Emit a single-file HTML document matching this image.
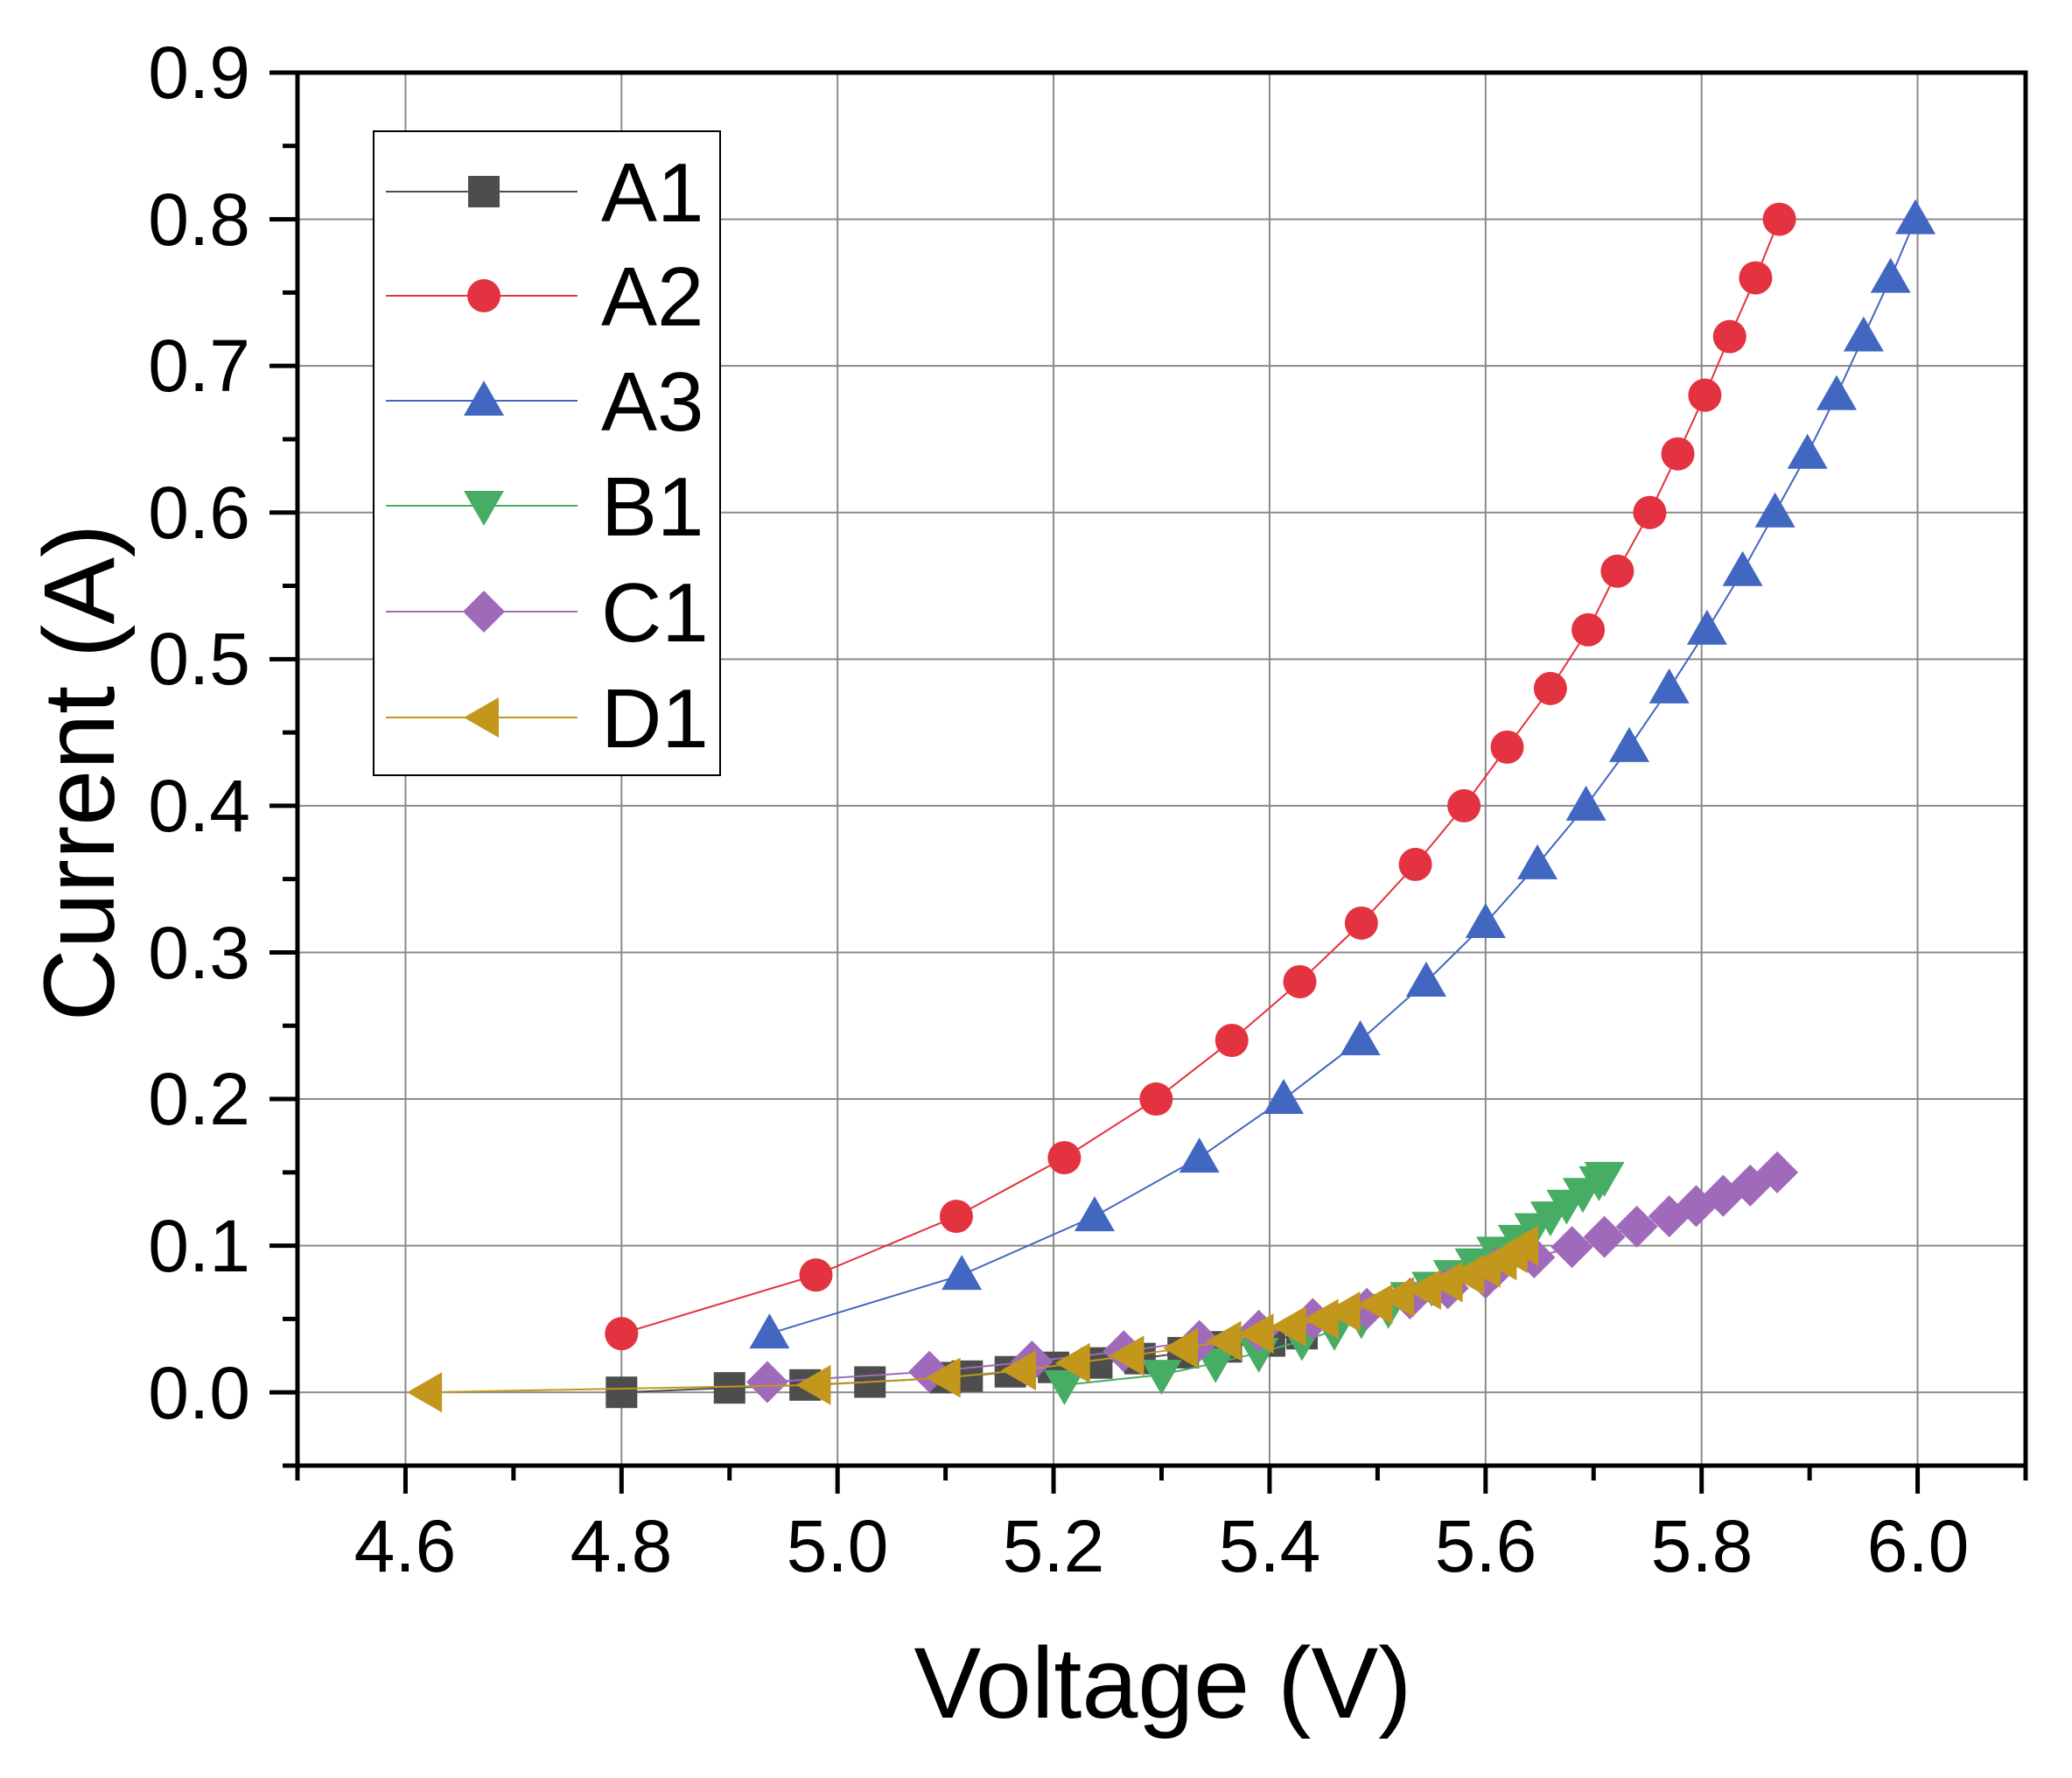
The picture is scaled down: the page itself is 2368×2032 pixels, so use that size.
<!DOCTYPE html>
<html><head><meta charset="utf-8"><style>
html,body{margin:0;padding:0;background:#fff}
svg{display:block}
text{font-family:"Liberation Sans",Arial,sans-serif;fill:#000}
</style></head><body>
<svg id="s" width="2368" height="2032" viewBox="0 0 2368 2032" xmlns="http://www.w3.org/2000/svg">
<g id="grid"></g>
<g id="data"></g>
<g id="axes"></g>
<g font-size="84">
<text x="286" y="112" text-anchor="end">0.9</text>
<text x="286" y="280" text-anchor="end">0.8</text>
<text x="286" y="447" text-anchor="end">0.7</text>
<text x="286" y="615" text-anchor="end">0.6</text>
<text x="286" y="782" text-anchor="end">0.5</text>
<text x="286" y="950" text-anchor="end">0.4</text>
<text x="286" y="1118" text-anchor="end">0.3</text>
<text x="286" y="1285" text-anchor="end">0.2</text>
<text x="286" y="1453" text-anchor="end">0.1</text>
<text x="286" y="1621" text-anchor="end">0.0</text>
<text x="463" y="1796" text-anchor="middle">4.6</text>
<text x="710" y="1796" text-anchor="middle">4.8</text>
<text x="957" y="1796" text-anchor="middle">5.0</text>
<text x="1204" y="1796" text-anchor="middle">5.2</text>
<text x="1451" y="1796" text-anchor="middle">5.4</text>
<text x="1698" y="1796" text-anchor="middle">5.6</text>
<text x="1945" y="1796" text-anchor="middle">5.8</text>
<text x="2192" y="1796" text-anchor="middle">6.0</text>
</g>
<text x="1329" y="1963" font-size="115" text-anchor="middle">Voltage (V)</text>
<text transform="translate(130,883) rotate(-90)" font-size="115" text-anchor="middle">Current (A)</text>
<g id="legend"></g>
<g font-size="96">
<text x="687" y="253">A1</text>
<text x="687" y="372">A2</text>
<text x="687" y="492">A3</text>
<text x="687" y="612">B1</text>
<text x="687" y="733">C1</text>
<text x="687" y="854">D1</text>
</g>
</svg>
<script>
var L=340,R=2315,T=83,B=1675;
function X(v){return L+(v-4.5)/1.6*(R-L);}
function Y(c){return T+(0.9-c)/0.95*(B-T);}
var NS="http://www.w3.org/2000/svg";
function el(p,tag,a){var e=document.createElementNS(NS,tag);for(var k in a)e.setAttribute(k,a[k]);document.getElementById(p).appendChild(e);return e;}
for(var v=4.6;v<6.05;v+=0.2){var x=X(v);el("grid","line",{x1:x,x2:x,y1:T,y2:B,stroke:"#8a8a8a","stroke-width":2});}
for(var c=-0.0;c<0.85;c+=0.1){var y=Y(c);el("grid","line",{x1:L,x2:R,y1:y,y2:y,stroke:"#8a8a8a","stroke-width":2});}
el("axes","rect",{x:L,y:T,width:R-L,height:B-T,fill:"none",stroke:"#000","stroke-width":5});
for(var i=0;i<=16;i++){var x=X(4.5+i*0.1);var mj=(i%2==1);el("axes","line",{x1:x,x2:x,y1:B,y2:B+(mj?32:17),stroke:"#000","stroke-width":5});}
for(var i=0;i<=19;i++){var y=Y(-0.05+i*0.05);var mj=(i%2==1);el("axes","line",{x1:L,x2:L-(mj?32:17),y1:y,y2:y,stroke:"#000","stroke-width":5});}
function marker(g,t,x,y,col){
 var s=18;
 if(t=="sq")el(g,"rect",{x:x-s,y:y-s,width:2*s,height:2*s,fill:col});
 else if(t=="ci")el(g,"circle",{cx:x,cy:y,r:19,fill:col});
 else if(t=="up")el(g,"polygon",{points:(x)+","+(y-23)+" "+(x+23)+","+(y+17)+" "+(x-23)+","+(y+17),fill:col});
 else if(t=="dn")el(g,"polygon",{points:(x)+","+(y+23)+" "+(x+23)+","+(y-17)+" "+(x-23)+","+(y-17),fill:col});
 else if(t=="di")el(g,"polygon",{points:(x)+","+(y-24)+" "+(x+24)+","+(y)+" "+(x)+","+(y+24)+" "+(x-24)+","+y,fill:col});
 else if(t=="lf")el(g,"polygon",{points:(x-23)+","+(y)+" "+(x+17)+","+(y-23)+" "+(x+17)+","+(y+23),fill:col});
}
var S=[
["sq","#4d4d4d",[[4.8,0],[4.9,0.003],[4.97,0.005],[5.03,0.007],[5.1,0.01],[5.12,0.011],[5.16,0.014],[5.2,0.017],[5.24,0.02],[5.28,0.023],[5.32,0.027],[5.36,0.031],[5.4,0.035],[5.43,0.04]]],
["ci","#e33340",[[4.8,0.04],[4.98,0.08],[5.11,0.12],[5.21,0.16],[5.295,0.2],[5.365,0.24],[5.428,0.28],[5.485,0.32],[5.535,0.36],[5.58,0.4],[5.62,0.44],[5.66,0.48],[5.695,0.52],[5.722,0.56],[5.752,0.6],[5.778,0.64],[5.803,0.68],[5.826,0.72],[5.85,0.76],[5.872,0.8]]],
["up","#4267c0",[[4.937,0.04],[5.115,0.08],[5.238,0.12],[5.335,0.16],[5.413,0.2],[5.484,0.24],[5.545,0.28],[5.6,0.32],[5.648,0.36],[5.693,0.4],[5.733,0.44],[5.77,0.48],[5.805,0.52],[5.838,0.56],[5.868,0.6],[5.898,0.64],[5.925,0.68],[5.95,0.72],[5.975,0.76],[5.998,0.8]]],
["dn","#47ad64",[[5.21,0.005],[5.3,0.012],[5.35,0.02],[5.39,0.027],[5.43,0.035],[5.46,0.042],[5.485,0.05],[5.51,0.057],[5.53,0.065],[5.55,0.072],[5.57,0.08],[5.59,0.088],[5.61,0.096],[5.63,0.104],[5.645,0.112],[5.66,0.12],[5.675,0.128],[5.69,0.136],[5.705,0.144],[5.71,0.147]]],
["di","#a06abb",[[4.935,0.007],[5.085,0.014],[5.18,0.021],[5.265,0.028],[5.335,0.035],[5.39,0.042],[5.44,0.05],[5.49,0.057],[5.53,0.064],[5.565,0.071],[5.6,0.078],[5.61,0.085],[5.645,0.092],[5.68,0.099],[5.71,0.106],[5.74,0.113],[5.77,0.12],[5.795,0.127],[5.82,0.134],[5.845,0.141],[5.87,0.15]]],
["lf","#c3961c",[[4.62,0],[4.98,0.005],[5.1,0.01],[5.17,0.015],[5.22,0.02],[5.27,0.025],[5.32,0.03],[5.36,0.035],[5.39,0.04],[5.42,0.045],[5.45,0.05],[5.47,0.055],[5.5,0.06],[5.52,0.065],[5.545,0.07],[5.565,0.075],[5.585,0.08],[5.6,0.085],[5.615,0.09],[5.625,0.095],[5.635,0.1]]]
];
S.forEach(function(s){
 var pts=s[2].map(function(p){return X(p[0])+","+Y(p[1]);}).join(" ");
 el("data","polyline",{points:pts,fill:"none",stroke:s[1],"stroke-width":2});
 s[2].forEach(function(p){marker("data",s[0],X(p[0]),Y(p[1]),s[1]);});
});
el("legend","rect",{x:427,y:150,width:396,height:736,fill:"#fff",stroke:"#000","stroke-width":2});
var ly=[219,338,458,578,699,820];
S.forEach(function(s,i){
 el("legend","line",{x1:441,x2:660,y1:ly[i],y2:ly[i],stroke:s[1],"stroke-width":2});
 marker("legend",s[0],553,ly[i],s[1]);
});
</script>
</body></html>
